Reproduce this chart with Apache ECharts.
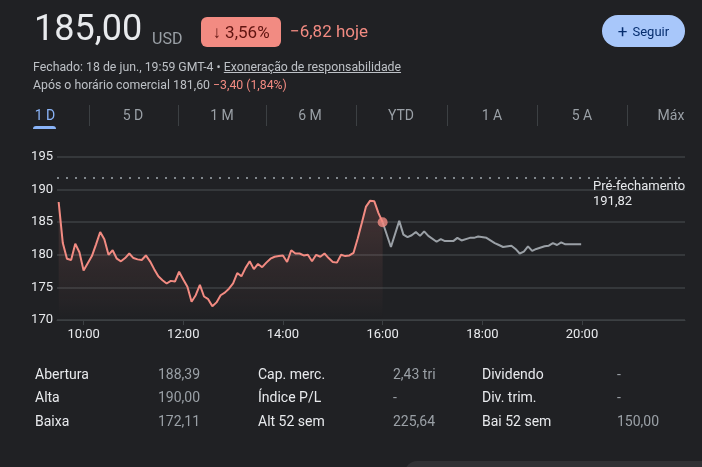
<!DOCTYPE html>
<html lang="pt-BR">
<head>
<meta charset="utf-8">
<title>185,00 USD</title>
<script src="https://cdn.jsdelivr.net/npm/echarts@6/dist/echarts.min.js"></script>
<style>
	html, body { margin: 0; padding: 0; }
	body {
		width: 702px; height: 467px; overflow: hidden; position: relative;
		background: #202124; color: #e8eaed;
		font-family: Roboto, Arial, sans-serif;
	}
	.abs { position: absolute; white-space: nowrap; }
	.price { left: 34px; top: 7px; font-size: 36px; color: #e8eaed; }
	.cur { left: 152px; top: 29px; font-size: 16px; color: #9aa0a6; }
	.badge {
		left: 201px; top: 17px; width: 80px; height: 30px; line-height: 30px;
		background: #f28b82; border-radius: 6px; color: #601410;
		font-size: 17px; text-align: center;
	}
	.chg { left: 290px; top: 21px; font-size: 17px; color: #f28b82; }
	.follow {
		left: 602px; top: 15px; width: 83px; height: 32px; line-height: 32px;
		background: #a8c7fa; border-radius: 16px; color: #062e6f;
		font-size: 13px; text-align: center;
	}
	.follow b { font-weight: 400; font-size: 17px; margin-right: 5px; vertical-align: -1px; }
	.meta { left: 33px; font-size: 12.3px; color: #bdc1c6; }
	.meta u { text-decoration: underline; }
	.red { color: #f28b82; }
	.tab { top: 107px; font-size: 14px; color: #9aa0a6; transform: translateX(-50%); }
	.tab.on { color: #8ab4f8; }
	.tabline { top: 126px; left: 33px; width: 23px; height: 3px; background: #8ab4f8; border-radius: 3px 3px 0 0; }
	.sep { top: 105px; width: 1px; height: 21px; background: #3c4043; }
	.pre { left: 593px; top: 178px; font-size: 13px; line-height: 15px; color: #e8eaed; }
	.lbl { font-size: 14px; color: #e8eaed; }
	.val { font-size: 14px; color: #9aa0a6; }
	.corner { left: 405px; top: 461px; width: 320px; height: 20px; background: #303134; border-radius: 12px 0 0 0; }
	#chart { position: absolute; left: 0; top: 0; width: 702px; height: 467px; }
</style>
</head>
<body>
<div id="chart"></div>

<div class="abs price">185,00</div>
<div class="abs cur">USD</div>
<div class="abs badge">↓ 3,56%</div>
<div class="abs chg">−6,82 hoje</div>
<div class="abs follow"><b>+</b>Seguir</div>

<div class="abs meta" style="top:60px">Fechado: 18 de jun., 19:59 GMT-4 • <u>Exoneração de responsabilidade</u></div>
<div class="abs meta" style="top:78px">Após o horário comercial 181,60 <span class="red">−3,40 (1,84%)</span></div>

<div id="tabs"></div>
<div class="abs tabline"></div>

<div class="abs pre">Pré-fechamento<br>191,82</div>

<div id="stats"></div>
<div class="abs corner"></div>

<script>
// ---- dados ----
const regTimes = ['09:30','09:35','09:40','09:45','09:50','09:55','10:00','10:05','10:10','10:15',
	'10:20','10:25','10:30','10:35','10:40','10:45','10:50','10:55','11:00','11:05',
	'11:10','11:15','11:20','11:25','11:30','11:35','11:40','11:45','11:50','11:55',
	'12:00','12:05','12:10','12:15','12:20','12:25','12:30','12:35','12:40','12:45',
	'12:50','12:55','13:00','13:05','13:10','13:15','13:20','13:25','13:30','13:35',
	'13:40','13:45','13:50','13:55','14:00','14:05','14:10','14:15','14:20','14:25',
	'14:30','14:35','14:40','14:45','14:50','14:55','15:00','15:05','15:10','15:15',
	'15:20','15:25','15:30','15:35','15:40','15:45','15:50','15:55','16:00'];
const regValues = [188.1,181.8,179.4,179.2,181.7,180.4,177.6,178.7,179.8,181.6,
	183.5,182.4,180.0,180.7,179.4,179.0,179.5,180.2,179.5,179.3,
	179.2,179.9,179.0,177.8,176.7,176.1,175.6,176.0,175.9,177.4,
	176.2,175.1,172.8,173.8,175.4,173.6,173.2,172.1,172.7,173.8,
	174.2,174.8,175.6,177.2,176.7,178.0,179.0,177.8,178.6,178.1,
	178.8,179.4,179.7,179.8,179.9,178.9,180.7,180.2,180.2,179.9,
	180.0,179.0,180.0,179.7,180.2,179.5,178.9,178.8,180.0,179.8,
	179.9,180.3,182.5,184.9,187.4,188.3,188.2,186.4,185.0];

const afterTimes = ['16:00','16:10','16:20','16:25','16:30','16:35','16:40','16:45','16:50','16:55',
	'17:05','17:10','17:15','17:25','17:30','17:35','17:45','17:50','17:55','18:05',
	'18:15','18:20','18:25','18:35','18:40','18:45','18:50','18:55','19:00','19:05',
	'19:15','19:20','19:25','19:30','19:35','19:40','19:50','19:59'];
const afterValues = [185.0,181.2,185.2,183.1,182.7,183.0,183.5,182.9,183.6,182.9,
	182.0,182.4,182.1,182.1,182.6,182.2,182.6,182.6,182.8,182.6,
	181.8,181.5,181.2,181.4,180.9,180.2,180.5,181.3,180.6,180.9,
	181.3,181.4,181.8,181.5,181.9,181.6,181.6,181.6];

const prevClose = 191.82;
const yTicks = [170, 175, 180, 185, 190, 195];
const xTickLabels = ['10:00', '12:00', '14:00', '16:00', '18:00', '20:00'];

const tabNames = ['1 D', '5 D', '1 M', '6 M', 'YTD', '1 A', '5 A', 'Máx'];

const statLabels = [
	['Abertura', 'Alta', 'Baixa'],
	['Cap. merc.', 'Índice P/L', 'Alt 52 sem'],
	['Dividendo', 'Div. trim.', 'Bai 52 sem'],
];
const statValues = [
	['188,39', '190,00', '172,11'],
	['2,43 tri', '-', '225,64'],
	['-', '-', '150,00'],
];

// ---- HTML: abas e tabela ----
const toMin = t => { const [h, m] = t.split(':').map(Number); return h * 60 + m; };
const fmtHM = v => String(Math.floor(v / 60)).padStart(2, '0') + ':' + String(v % 60).padStart(2, '0');

const tabCenters = [45, 133, 222, 310, 401, 492, 582, 671];
const tabsEl = document.getElementById('tabs');
tabNames.forEach((name, i) => {
	const d = document.createElement('div');
	d.className = 'abs tab' + (i === 0 ? ' on' : '');
	d.style.left = tabCenters[i] + 'px';
	d.textContent = name;
	tabsEl.appendChild(d);
	if (i > 0) {
		const s = document.createElement('div');
		s.className = 'abs sep';
		s.style.left = Math.round((tabCenters[i - 1] + tabCenters[i]) / 2) + 'px';
		tabsEl.appendChild(s);
	}
});

const statsEl = document.getElementById('stats');
const colLbl = [35, 258, 482];
const colVal = [158, 393, 617];
const rowTop = [366, 389, 413];
statLabels.forEach((col, c) => {
	col.forEach((txt, r) => {
		const l = document.createElement('div');
		l.className = 'abs lbl';
		l.style.left = colLbl[c] + 'px';
		l.style.top = rowTop[r] + 'px';
		l.textContent = txt;
		statsEl.appendChild(l);
		const v = document.createElement('div');
		v.className = 'abs val';
		v.style.left = colVal[c] + 'px';
		v.style.top = rowTop[r] + 'px';
		v.textContent = statValues[c][r];
		statsEl.appendChild(v);
	});
});

// ---- gráfico ----
const chart = echarts.init(document.getElementById('chart'), null, { renderer: 'canvas' });
const regData = regTimes.map((t, i) => [toMin(t), regValues[i]]);
const afterData = afterTimes.map((t, i) => [toMin(t), afterValues[i]]);
const tickVals = xTickLabels.map(toMin);
const fontFamily = 'Roboto, Arial, sans-serif';
const lineRed = '#f28b82';

chart.setOption({
	backgroundColor: 'transparent',
	animation: false,
	grid: { left: 57, right: 17, top: 157, bottom: 147, containLabel: false },
	xAxis: {
		type: 'value',
		min: 568,
		max: 1324,
		axisLine: { show: true, lineStyle: { color: '#3c4043', width: 1 } },
		axisTick: { show: true, length: 5, inside: false, customValues: tickVals, lineStyle: { color: '#3c4043' } },
		axisLabel: { customValues: tickVals, formatter: v => fmtHM(v), color: '#e8eaed', fontSize: 13, fontFamily, margin: 8 },
		splitLine: { show: false },
	},
	yAxis: {
		type: 'value',
		min: yTicks[0],
		max: yTicks[yTicks.length - 1],
		interval: 5,
		axisLine: { show: false },
		axisTick: { show: false },
		axisLabel: { color: '#e8eaed', fontSize: 13, fontFamily, margin: 4 },
		splitLine: { lineStyle: { color: '#3c4043', width: 1.5 } },
	},
	series: [
		{
			name: 'Pregão',
			type: 'line',
			data: regData,
			showSymbol: false,
			lineStyle: { color: lineRed, width: 2 },
			areaStyle: {
				origin: 'start',
				color: new echarts.graphic.LinearGradient(0, 0, 0, 1, [
					{ offset: 0, color: 'rgba(242,139,130,0.24)' },
					{ offset: 1, color: 'rgba(242,139,130,0.0)' },
				]),
			},
			markLine: {
				silent: true,
				symbol: 'none',
				label: { show: false },
				lineStyle: { color: '#80868b', type: [2, 7], width: 2 },
				data: [{ yAxis: prevClose }],
			},
			z: 3,
		},
		{
			name: 'Após o horário',
			type: 'line',
			data: afterData,
			showSymbol: false,
			lineStyle: { color: '#9aa0a6', width: 2 },
			z: 2,
		},
		{
			name: 'Fechamento',
			type: 'scatter',
			data: [regData[regData.length - 1]],
			symbolSize: 10,
			itemStyle: { color: lineRed },
			z: 4,
		},
	],
});
</script>
</body>
</html>
